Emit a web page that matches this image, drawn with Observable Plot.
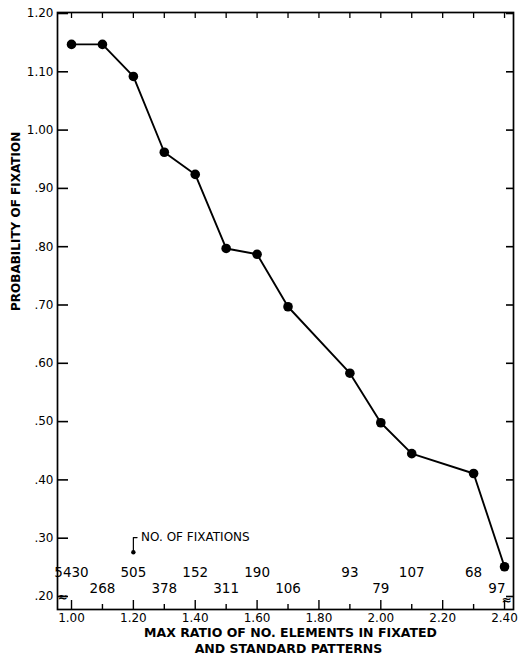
<!DOCTYPE html>
<html>
<head>
<meta charset="utf-8">
<script src="https://cdn.jsdelivr.net/npm/d3@7"></script>
<script src="https://cdn.jsdelivr.net/npm/@observablehq/plot@0.6"></script>
<style>
  html, body { margin: 0; padding: 0; background: #fff; }
  #chart svg { display: block; }
</style>
</head>
<body>
<div id="chart"></div>
<script>
// Probability of fixation by max ratio of element counts
const ratios = [1.00, 1.10, 1.20, 1.30, 1.40, 1.50, 1.60, 1.70, 1.90, 2.00, 2.10, 2.30, 2.40];
const probs  = [1.147, 1.147, 1.092, 0.962, 0.924, 0.797, 0.787, 0.697, 0.583, 0.498, 0.445, 0.411, 0.251];
// number of fixations per ratio, and which label row (0 upper, 1 lower)
const fixations = [5430, 268, 505, 378, 152, 311, 190, 106, 93, 79, 107, 68, 97];
const labelRow  = [0, 1, 0, 1, 0, 1, 0, 1, 0, 1, 0, 0, 1];

const yTicks = [0.20, 0.30, 0.40, 0.50, 0.60, 0.70, 0.80, 0.90, 1.00, 1.10, 1.20];
const xMajor = [1.00, 1.20, 1.40, 1.60, 1.80, 2.00, 2.20, 2.40];
const xMinor = [1.10, 1.30, 1.50, 1.70, 1.90, 2.10, 2.30];
const xAll   = [1.00, 1.10, 1.20, 1.30, 1.40, 1.50, 1.60, 1.70, 1.80, 1.90, 2.00, 2.10, 2.20, 2.30, 2.40];

const xTitle = ["MAX RATIO OF NO. ELEMENTS IN FIXATED", "AND STANDARD PATTERNS"];
const yTitle = "PROBABILITY OF FIXATION";
const noteText = "NO. OF FIXATIONS";
const noteX = 1.20;
const noteY = [0.301, 0.276];

const rows = ratios.map((r, i) => ({ratio: r, prob: probs[i], n: fixations[i], row: labelRow[i]}));
const yRowValues = [0.241, 0.214];
// the count at the right edge is set flush against the frame
const inner = rows.slice(0, -1);
const last = rows.slice(-1);

const fmtY = v => v >= 1 ? v.toFixed(2) : v.toFixed(2).slice(1);
const font = "DejaVu Sans, Verdana, sans-serif";

const chart = Plot.plot({
  width: 518,
  height: 663,
  marginLeft: 57,
  marginRight: 5,
  marginTop: 12,
  marginBottom: 54,
  style: {fontFamily: font, color: "#000", background: "#fff"},
  x: {domain: [0.9547, 2.429]},
  y: {domain: [0.1777, 1.2017]},
  marks: [
    Plot.frame({stroke: "#000", strokeWidth: 1.7}),
    // left axis: inward ticks + labels
    Plot.axisY({ticks: yTicks, tickSize: -11, text: null, label: null, strokeWidth: 1.6}),
    Plot.axisY({ticks: yTicks, tickSize: 0, tickPadding: 4, tickFormat: fmtY, label: null, fontSize: 12}),
    // right axis: inward ticks only
    Plot.axisY({anchor: "right", ticks: yTicks, tickSize: -8, text: null, label: null, strokeWidth: 1.6}),
    // bottom axis: major and minor inward ticks, labels at majors
    Plot.axisX({ticks: xMajor, tickSize: -9, text: null, label: null, strokeWidth: 1.4}),
    Plot.axisX({ticks: xMinor, tickSize: -5, text: null, label: null, strokeWidth: 1.4}),
    Plot.axisX({ticks: xMajor, tickSize: 0, tickPadding: 4, tickFormat: v => v.toFixed(2), label: null, fontSize: 12}),
    // top axis ticks
    Plot.axisX({anchor: "top", ticks: xAll, tickSize: -5, text: null, label: null, strokeWidth: 1.3}),
    // axis-break marks at the bottom corners
    Plot.text(["≈"], {frameAnchor: "bottom-left", dy: -9, fontSize: 12, fontWeight: "bold"}),
    Plot.text(["≈"], {frameAnchor: "bottom-right", dx: -2, dy: -6, fontSize: 12, fontWeight: "bold"}),
    // data
    Plot.line(rows, {x: "ratio", y: "prob", stroke: "#000", strokeWidth: 1.9}),
    Plot.dot(rows, {x: "ratio", y: "prob", r: 4.8, fill: "#000", stroke: "none"}),
    // fixation counts
    Plot.text(inner, {x: "ratio", y: d => yRowValues[d.row], text: d => String(d.n), fontSize: 13.5}),
    Plot.text(last, {x: "ratio", y: d => yRowValues[d.row], text: d => String(d.n), fontSize: 13.5, textAnchor: "end", dx: 1}),
    // note with bracket arrow
    Plot.line([{x: noteX + 0.012, y: noteY[0]}, {x: noteX, y: noteY[0]}, {x: noteX, y: noteY[1]}], {x: "x", y: "y", stroke: "#000", strokeWidth: 1.2}),
    Plot.dot([{x: noteX, y: noteY[1]}], {x: "x", y: "y", r: 2.2, fill: "#000"}),
    Plot.text([noteText], {x: noteX + 0.025, y: noteY[0], textAnchor: "start", fontSize: 12}),
    // axis titles
    Plot.text([yTitle], {frameAnchor: "left", dx: -41, rotate: -90, fontSize: 12, fontWeight: "bold"}),
    Plot.text([xTitle[0]], {frameAnchor: "bottom", dx: 5, dy: 27, fontSize: 12.5, fontWeight: "bold"}),
    Plot.text([xTitle[1]], {frameAnchor: "bottom", dx: 3, dy: 43, fontSize: 12.5, fontWeight: "bold"})
  ]
});
document.getElementById("chart").appendChild(chart);
</script>
</body>
</html>
